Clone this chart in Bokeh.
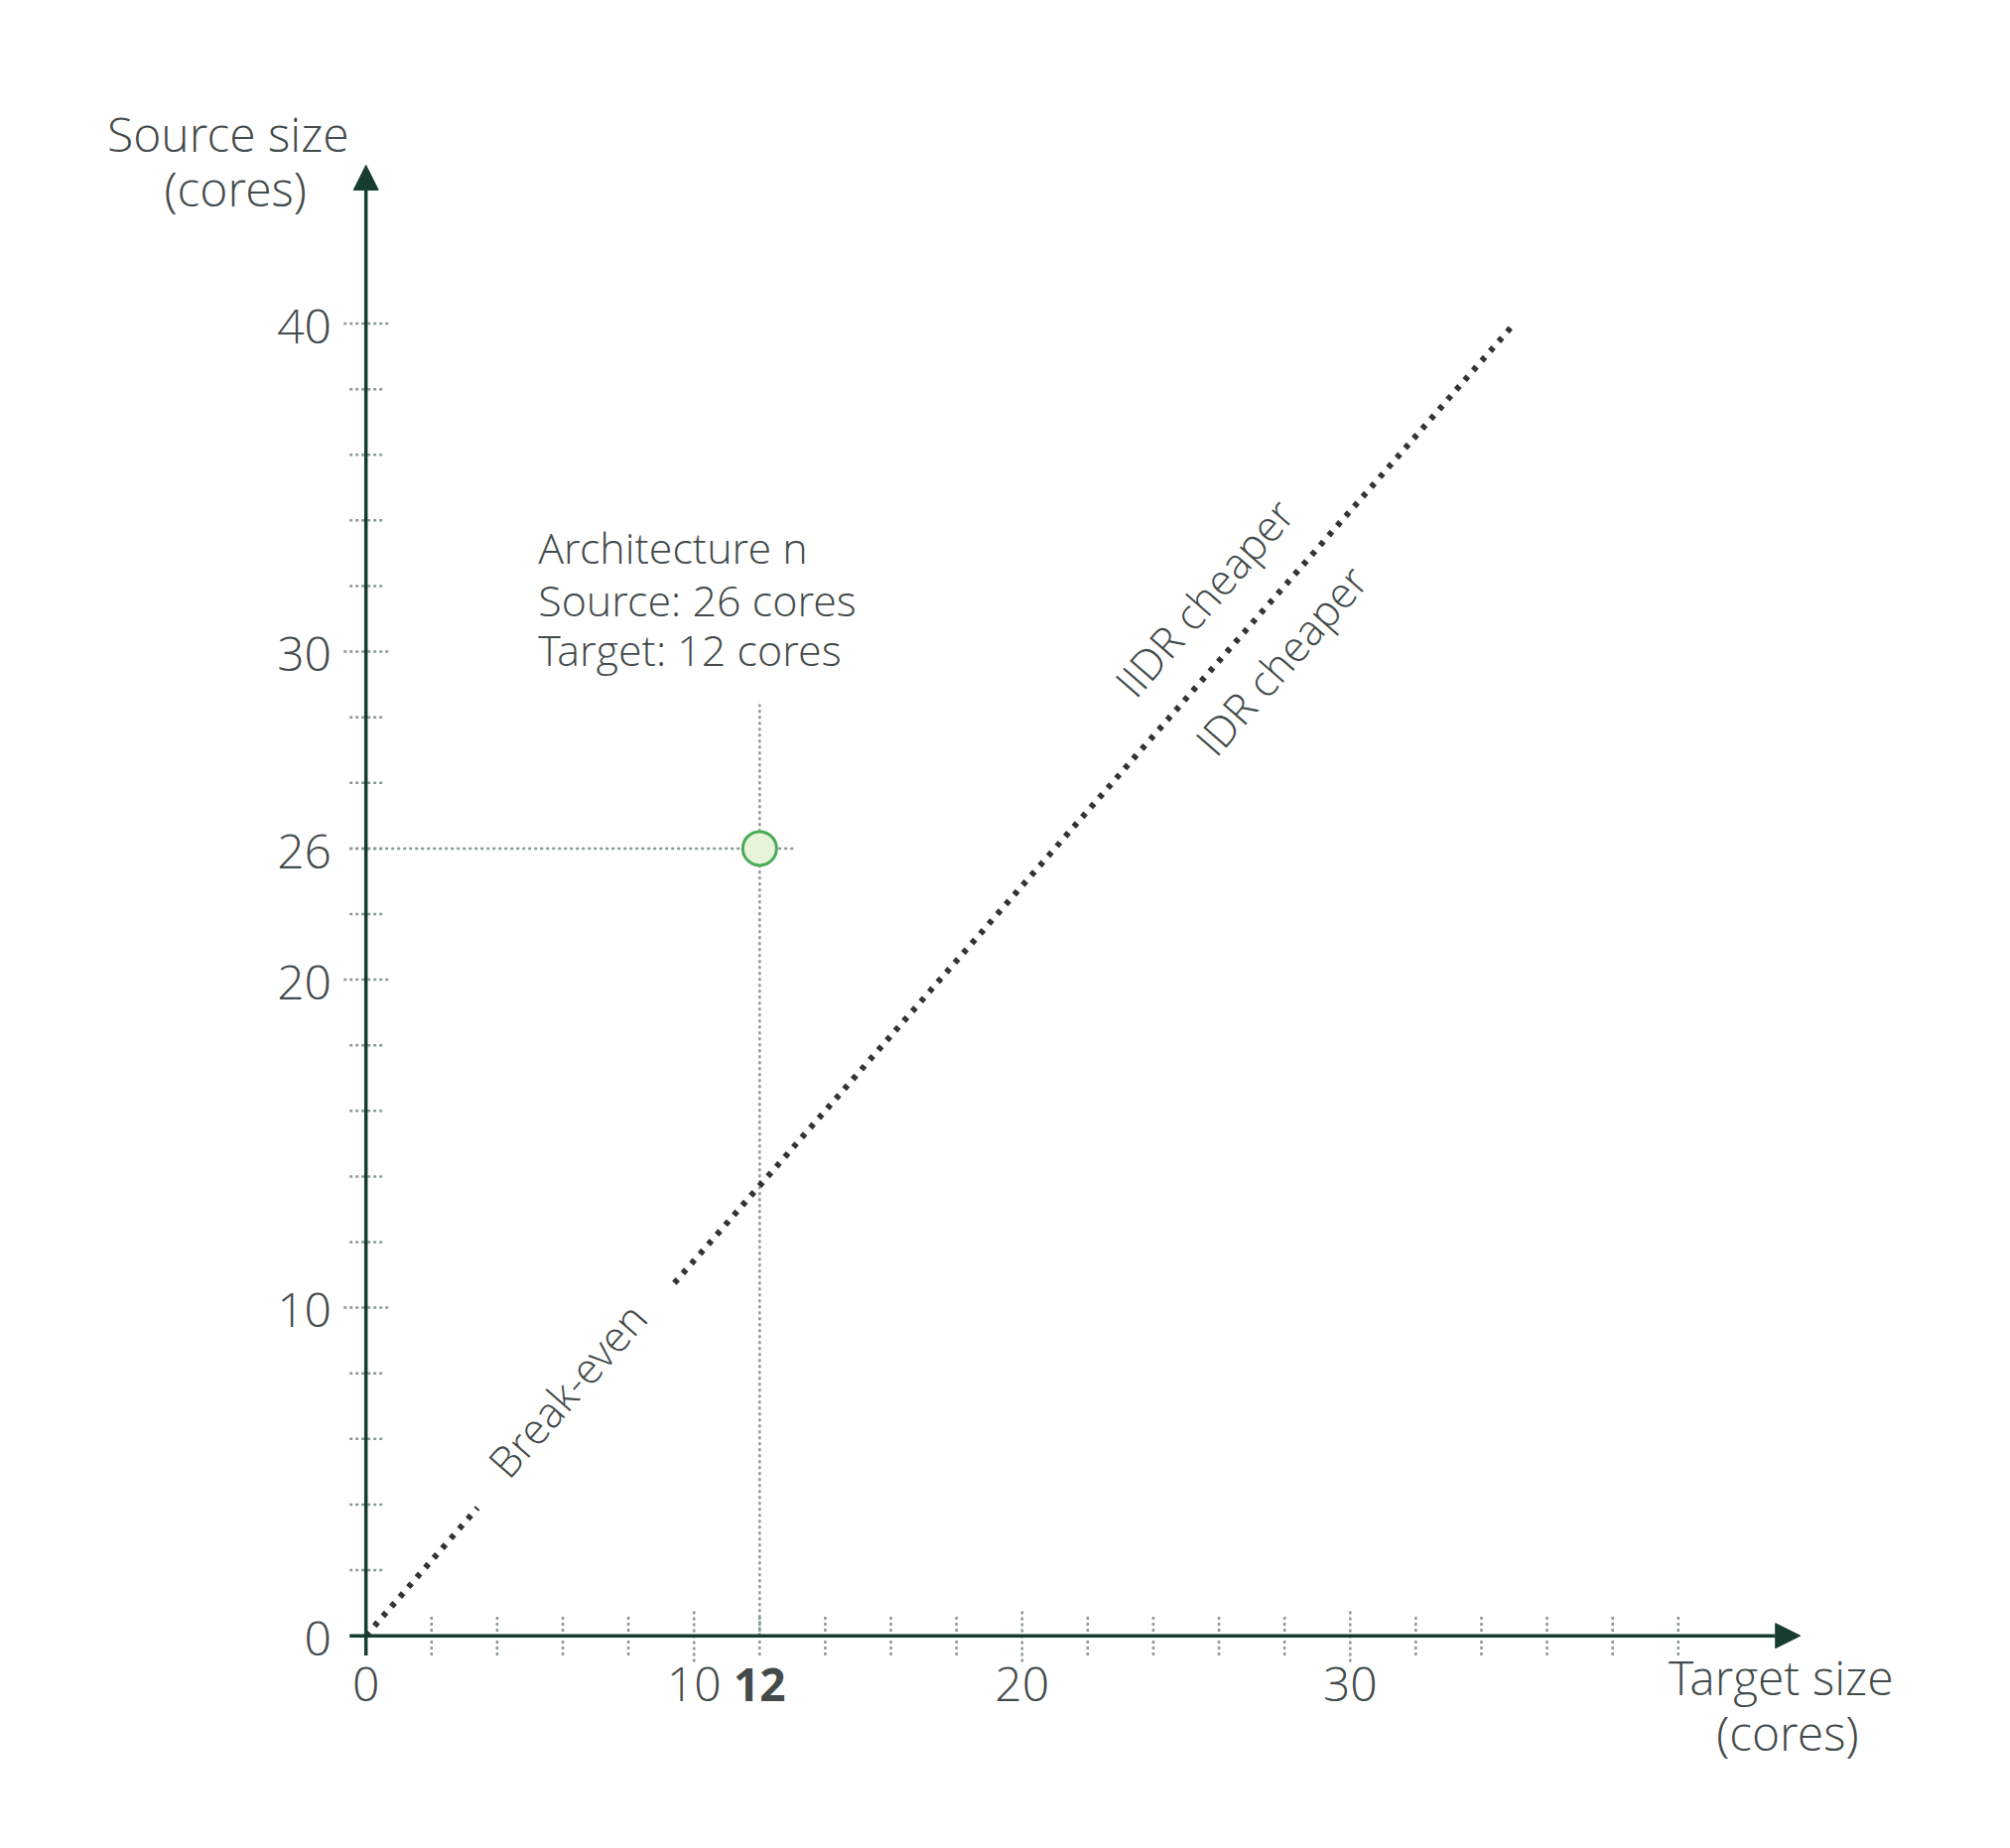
from bokeh.plotting import figure
from bokeh.models import Range1d, Arrow, NormalHead
from bokeh.core.properties import value
from bokeh.embed import file_html
from bokeh.resources import INLINE
import math

# ---------------- data ----------------
x_tick_values = [0, 10, 20, 30]
x_tick_labels = ["0", "10", "20", "30"]
x_major_ticks = [10, 20, 30]
x_minor_ticks = [2, 4, 6, 8, 12, 14, 16, 18, 22, 24, 26, 28, 32, 34, 36, 38, 40]

y_tick_values = [0, 10, 20, 24, 30, 40]
y_tick_labels = ["0", "10", "20", "26", "30", "40"]
y_major_ticks = [10, 20, 30, 40]
y_minor_ticks = [2, 4, 6, 8, 12, 14, 16, 18, 22, 24, 26, 28, 32, 34, 36, 38]

# break-even line (drawn in two pieces, interrupted by its label)
breakeven_x0 = [0.0, 9.4]
breakeven_y0 = [0.0, 10.75]
breakeven_x1 = [3.4, 35.0]
breakeven_y1 = [3.9, 40.0]

# highlighted architecture (drawn at the position labelled "26")
point_target = [12]
point_source_pos = [24]
highlight_x_label = ["12"]

annotation_lines = ["Architecture n", "Source: 26 cores", "Target: 12 cores"]

# ---------------- style ----------------
AXIS = "#173d30"
TICK = "#8a9997"
TEXT = "#434a4a"
LINE = "#333333"
FONT = value("Open Sans Light, Open Sans")
FONT_BOLD = value("Open Sans")

p = figure(width=2000, height=1840,
           x_range=Range1d(-11.14, 49.37), y_range=Range1d(-5.82, 49.85),
           x_axis_type=None, y_axis_type=None,
           output_backend="svg", toolbar_location=None, min_border=0)
p.grid.visible = False
p.outline_line_color = None
p.background_fill_color = "white"
p.border_fill_color = "white"

# dotted ticks
p.segment(x0=x_minor_ticks, y0=[-0.6] * len(x_minor_ticks), x1=x_minor_ticks, y1=[0.6] * len(x_minor_ticks),
          line_color=TICK, line_width=2.5, line_dash="3 3")
p.segment(x0=x_major_ticks, y0=[-0.8] * len(x_major_ticks), x1=x_major_ticks, y1=[0.8] * len(x_major_ticks),
          line_color=TICK, line_width=2.5, line_dash="3 3")
p.segment(x0=[-0.5] * len(y_minor_ticks), y0=y_minor_ticks, x1=[0.55] * len(y_minor_ticks), y1=y_minor_ticks,
          line_color=TICK, line_width=2.5, line_dash="3 3")
p.segment(x0=[-0.68] * len(y_major_ticks), y0=y_major_ticks, x1=[0.68] * len(y_major_ticks), y1=y_major_ticks,
          line_color=TICK, line_width=2.5, line_dash="3 3")

# guide lines to the highlighted point
p.segment(x0=[-0.5], y0=point_source_pos, x1=[13.1], y1=point_source_pos,
          line_color=TICK, line_width=2.5, line_dash="3 3")
p.segment(x0=point_target, y0=[0], x1=point_target, y1=[28.4],
          line_color=TICK, line_width=2.5, line_dash="3 3")

# axes with arrow heads
p.add_layout(Arrow(end=NormalHead(size=25, fill_color=AXIS, line_color=AXIS),
                   x_start=-0.5, y_start=0, x_end=43.72, y_end=0,
                   line_color=AXIS, line_width=3.5))
p.add_layout(Arrow(end=NormalHead(size=25, fill_color=AXIS, line_color=AXIS),
                   x_start=0, y_start=-0.6, x_end=0, y_end=44.83,
                   line_color=AXIS, line_width=3.5))

# break-even line
p.segment(x0=breakeven_x0, y0=breakeven_y0, x1=breakeven_x1, y1=breakeven_y1,
          line_color=LINE, line_width=6, line_dash="5 8")

# highlighted point
p.scatter(x=point_target, y=point_source_pos, size=34, marker="circle",
          fill_color="#e6f5da", line_color="#4aab57", line_width=3)

# tick labels
p.text(x=x_tick_values, y=[-1.48] * len(x_tick_values), text=x_tick_labels,
       text_font=FONT, text_font_size="48px", text_color=TEXT,
       text_align="center", text_baseline="alphabetic")
p.text(x=point_target, y=[-1.48], text=highlight_x_label,
       text_font=FONT_BOLD, text_font_size="46px", text_font_style="bold", text_color=TEXT,
       text_align="center", text_baseline="alphabetic")
p.text(x=[-1.05] * len(y_tick_values), y=[v - 0.08 for v in y_tick_values], text=y_tick_labels,
       text_font=FONT, text_font_size="48px", text_color=TEXT,
       text_align="right", text_baseline="alphabetic")

# axis titles
p.text(x=[-4.2, -3.98], y=[45.8, 44.13], text=["Source size", "(cores)"],
       text_font=FONT, text_font_size="48px", text_color=TEXT,
       text_align="center", text_baseline="alphabetic")
p.text(x=[43.13, 43.33], y=[-1.25, -2.94], text=["Target size", "(cores)"],
       text_font=FONT, text_font_size="48px", text_color=TEXT,
       text_align="center", text_baseline="alphabetic")

# annotation
p.text(x=[5.25] * 3, y=[33.17, 31.59, 30.07], text=annotation_lines,
       text_font=FONT, text_font_size="43px", text_color=TEXT,
       text_align="left", text_baseline="alphabetic")

# rotated labels along the break-even line
ang = math.atan2(40.0, 35.0)
p.text(x=[6.13, 25.55, 27.89], y=[7.5, 31.65, 29.74],
       text=["Break-even", "IIDR cheaper", "IDR cheaper"], angle=ang,
       text_font=FONT, text_font_size="43px", text_color=TEXT,
       text_align="center", text_baseline="middle")

open("out.html", "w").write(file_html(p, INLINE))
